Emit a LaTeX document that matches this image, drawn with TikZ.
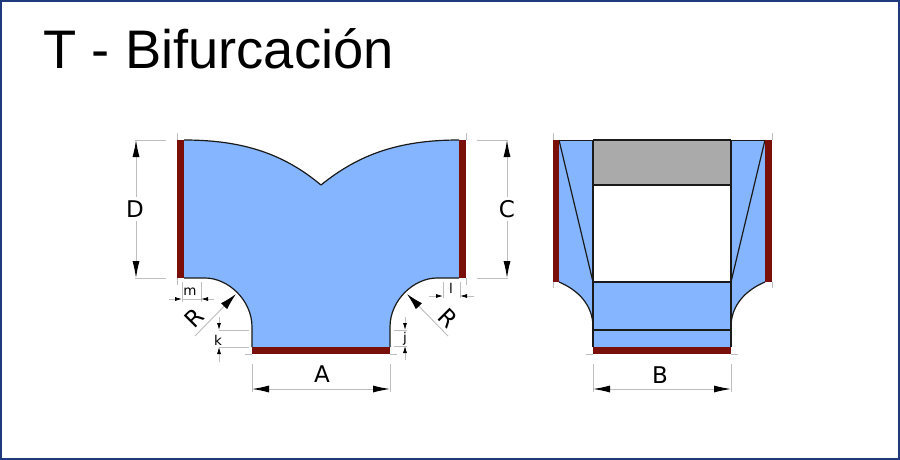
\documentclass[tikz,border=0pt]{standalone}
\usepackage{fontspec}
\setmainfont{Liberation Sans}
\newfontfamily\dimfont{DejaVu Sans}
\usetikzlibrary{arrows.meta}
\definecolor{duct}{HTML}{85B5FF}
\definecolor{flange}{HTML}{7A0E08}
\definecolor{inner}{HTML}{AAAAAA}
\definecolor{frameblue}{HTML}{1F3A7A}
\definecolor{dimgray}{HTML}{BEBEBE}
\definecolor{ink}{HTML}{1A1A1A}
\tikzset{
  outline/.style={draw=ink,line width=1.2pt,line join=round},
  bar/.style={fill=flange,draw=none},
  ext/.style={draw=dimgray,line width=0.9pt},
  bigdim/.style={draw=dimgray,line width=0.9pt,{Latex[length=17pt,width=7pt,color=black]}-{Latex[length=17pt,width=7pt,color=black]}},
  onehead/.style={draw=dimgray,line width=0.9pt,-{Latex[length=17pt,width=8.5pt,color=black]}},
  smallhead/.style={draw=dimgray,line width=0.8pt,-{Latex[length=7pt,width=4pt,color=black]}},
  biglabel/.style={font=\dimfont\fontsize{23}{23}\selectfont,inner sep=0pt,fill=white},
  radlabel/.style={font=\dimfont\fontsize{23}{23}\selectfont,inner sep=0pt},
  smalllabel/.style={font=\dimfont\fontsize{13.5}{13.5}\selectfont,inner sep=0pt},
}
\begin{document}
\begin{tikzpicture}[x=1pt,y=-1pt]
\useasboundingbox (0,0) rectangle (900,460);
\fill[white] (0,0) rectangle (900,460);
\draw[frameblue,line width=2.4pt] (1,1) rectangle (899,459);
\node[anchor=west,inner sep=0pt,font=\fontsize{54.3}{54.3}\selectfont] (title) at (43.5,49) {T - Bifurcación};

% ---------- left view ----------
\path[fill=duct] (184,140) .. controls (245,140) and (285,155) .. (321,185)
  .. controls (358,155) and (398,140) .. (459,140) -- (459,278) -- (437,278)
  .. controls (414,278) and (390,300) .. (390,327) -- (390,347) -- (252,347) -- (252,327)
  .. controls (252,300) and (228,278) .. (205,278) -- (184,278) -- cycle;
\draw[outline] (184,140) .. controls (245,140) and (285,155) .. (321,185)
  .. controls (358,155) and (398,140) .. (459,140);
\draw[outline] (184,278) -- (205,278) .. controls (228,278) and (252,300) .. (252,327) -- (252,347);
\draw[outline] (459,278) -- (437,278) .. controls (414,278) and (390,300) .. (390,327) -- (390,347);
\fill[bar] (177,140) rectangle (184,278);
\fill[bar] (459,140) rectangle (466,278);
\fill[bar] (252,347) rectangle (390,354);

% dimension D
\coordinate (dtop) at (136,140);
\coordinate (dbot) at (136,278);
\draw[ext] (177,133) -- (177,140) (177,278) -- (177,285) (135,140) -- (166,140) (135,278) -- (166,278);
\draw[bigdim] (dtop) -- (dbot);
\node[biglabel,minimum height=24pt] (labelD) at (135,209) {D};
% dimension C
\coordinate (ctop) at (507,140);
\coordinate (cbot) at (507,278);
\draw[ext] (466,133) -- (466,140) (466,278) -- (466,285) (477,140) -- (508,140) (477,278) -- (508,278);
\draw[bigdim] (ctop) -- (cbot);
\node[biglabel,minimum height=24pt] (labelC) at (507,209) {C};
% dimension A
\coordinate (aleft) at (252,389);
\coordinate (aright) at (390,389);
\draw[ext] (252,364) -- (252,392) (390,364) -- (390,392) (245,354) -- (252,354) (390,354) -- (397,354);
\draw[bigdim] (aleft) -- (aright);
\node[radlabel] (labelA) at (322,374) {A};
% m
\coordinate (mleft) at (182,299);
\coordinate (mright) at (201,299);
\coordinate (mleftout) at (169,299);
\coordinate (mrightout) at (214,299);
\draw[ext,line width=0.7pt] (182,282) -- (182,302) (201,282) -- (201,302) (mleft) -- (mright);
\draw[smallhead] (mleftout) -- (mleft);
\draw[smallhead] (mrightout) -- (mright);
\node[smalllabel] (labelm) at (190,292) {m};
% l
\coordinate (lleft) at (443,296);
\coordinate (lright) at (460,296);
\coordinate (lleftout) at (429,296);
\coordinate (lrightout) at (474,296);
\draw[ext,line width=0.7pt] (443,282) -- (443,298) (460,282) -- (460,298);
\draw[smallhead] (lleftout) -- (lleft);
\draw[smallhead] (lrightout) -- (lright);
\node[smalllabel] (labell) at (451,288) {l};
% k
\coordinate (ktop) at (219,330);
\coordinate (kbot) at (219,347);
\coordinate (ktopout) at (219,317);
\coordinate (kbotout) at (219,362);
\draw[ext,line width=0.7pt] (219,330) -- (249,330) (219,347) -- (249,347);
\draw[smallhead] (ktopout) -- (ktop);
\draw[smallhead] (kbotout) -- (kbot);
\node[smalllabel] (labelk) at (218,340) {k};
% j
\coordinate (jtop) at (405,330);
\coordinate (jbot) at (405,346);
\coordinate (jtopout) at (405,317);
\coordinate (jbotout) at (405,360);
\draw[ext,line width=0.7pt] (394,330) -- (407,330) (394,346) -- (407,346);
\draw[smallhead] (jtopout) -- (jtop);
\draw[smallhead] (jbotout) -- (jbot);
\node[smalllabel] (labelj) at (405,339) {j};
% radii
\coordinate (rlfoot) at (195,336);
\coordinate (rltip) at (236,294);
\coordinate (rrfoot) at (448,336);
\coordinate (rrtip) at (407,294);
\draw[onehead] (rlfoot) -- (rltip);
\draw[onehead] (rrfoot) -- (rrtip);
\node[radlabel,rotate=45] (labelRl) at (194,318) {R};
\node[radlabel,rotate=-45] (labelRr) at (448,318) {R};

% ---------- right view ----------
\path[fill=duct] (559,140) -- (765,140) -- (765,282)
  .. controls (746,290) and (731,305) .. (731,327) -- (731,347) -- (593,347) -- (593,327)
  .. controls (593,305) and (578,290) .. (559,282) -- cycle;
\fill[inner] (593,140) rectangle (731,185);
\fill[white] (593,185) rectangle (731,282);
\draw[outline] (593,140) -- (731,140);
\draw[outline] (593,140) -- (593,347) (731,140) -- (731,347);
\draw[outline] (593,185) -- (731,185) (593,282) -- (731,282) (593,330) -- (731,330);
\draw[outline] (559,140) -- (593,282) (765,140) -- (731,282);
\draw[outline] (559,282) .. controls (578,290) and (593,305) .. (593,327);
\draw[outline] (765,282) .. controls (746,290) and (731,305) .. (731,327);
\draw[outline,line width=0.8pt] (559,140) -- (593,140) (731,140) -- (765,140);
\fill[bar] (553,140) rectangle (559,282);
\fill[bar] (765,140) rectangle (772,282);
\fill[bar] (593,347) rectangle (731,354);
\draw[ext] (553,133) -- (553,140) (772,133) -- (772,140) (553,282) -- (553,288) (772,282) -- (772,288)
  (586,354) -- (593,354) (731,354) -- (738,354);
% dimension B
\coordinate (bleft) at (593,389);
\coordinate (bright) at (731,389);
\draw[ext] (593,364) -- (593,392) (731,364) -- (731,392);
\draw[bigdim] (bleft) -- (bright);
\node[radlabel] (labelB) at (660,375) {B};
\end{tikzpicture}
\end{document}
